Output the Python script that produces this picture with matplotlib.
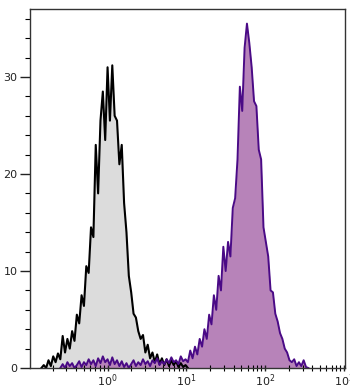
import numpy as np
import matplotlib
matplotlib.use('Agg')
import matplotlib.pyplot as plt
from matplotlib.ticker import LogLocator, MultipleLocator, LogFormatterMathtext, NullFormatter

# control (isotype) histogram, log10 bin centres start / step
ctrl_start = -0.84
ctrl_step = 0.03
ctrl_counts = [0, 0.3, 0, 0.8, 0.2, 1.2, 0.6, 1.5, 0.9, 3.3,
               1.6, 3.0, 2.0, 3.8, 2.8, 5.5, 4.6, 7.5, 6.4, 10.5,
               9.8, 14.5, 13.5, 23.0, 18.0, 25.5, 28.5, 23.5, 31.0, 25.5,
               31.2, 26.0, 25.5, 21.0, 23.0, 17.0, 14.0, 9.5, 7.8, 5.6,
               5.2, 3.8, 3.0, 3.4, 1.6, 2.4, 1.0, 1.6, 0.6, 1.4,
               0.4, 1.0, 0.3, 0.9, 0.2, 0.8, 0.3, 0.7, 0.1, 0.5,
               0.1, 0.3, 0]

# stained sample histogram
stain_start = -0.60
stain_step = 0.03
stain_counts = [0, 0.4, 0, 0.6, 0.2, 0.5, 0, 0.3, 0.7, 0.1,
                0.6, 0.3, 0.9, 0.4, 0.8, 0.2, 1.0, 0.5, 1.2, 0.6,
                0.9, 0.3, 1.1, 0.4, 0.8, 0.2, 0.7, 0.1, 0.5, 0,
                0.4, 0.8, 0.2, 0.6, 0.3, 0.9, 0.4, 0.7, 0.2, 0.8,
                0.5, 1.0, 0.3, 0.7, 0.4, 0.9, 0.5, 1.1, 0.6, 0.8,
                0.4, 1.2, 0.7, 0.9, 0.6, 1.8, 1.0, 2.2, 1.4, 3.0,
                2.2, 4.0, 3.0, 5.5, 4.5, 7.5, 6.0, 9.5, 8.0, 12.5,
                10.0, 13.0, 11.5, 16.5, 17.5, 21.5, 29.0, 26.5, 33.0, 35.5,
                33.5, 31.0, 27.5, 27.0, 22.5, 21.5, 14.5, 13.0, 11.5, 8.0,
                7.8, 5.6, 4.8, 3.6, 3.0, 2.0, 1.6, 0.8, 0.6, 0.9,
                0.2, 0.6, 0.2, 0.8, 0.1, 0]

ctrl_x = 10 ** (ctrl_start + ctrl_step * np.arange(len(ctrl_counts)))
stain_x = 10 ** (stain_start + stain_step * np.arange(len(stain_counts)))

fig = plt.figure(figsize=(3.5, 3.91), dpi=100)
ax = fig.add_axes([0.0857, 0.0588, 0.9, 0.918])

ax.fill_between(ctrl_x, ctrl_counts, 0, color='#dcdcdc', lw=0)
ax.plot(ctrl_x, ctrl_counts, color='black', lw=1.5)
ax.fill_between(stain_x, stain_counts, 0, color='#b783b9', lw=0)
ax.plot(stain_x, stain_counts, color='#4a0a86', lw=1.4)

ax.set_xscale('log')
ax.set_xlim(10 ** -0.985, 10 ** 3.015)
ax.set_ylim(0, 37)

ax.xaxis.set_major_locator(LogLocator(base=10, numticks=10))
ax.xaxis.set_major_formatter(LogFormatterMathtext())
ax.xaxis.set_minor_locator(LogLocator(base=10, subs=np.arange(2, 10), numticks=20))
ax.xaxis.set_minor_formatter(NullFormatter())
ax.yaxis.set_major_locator(MultipleLocator(10))
ax.yaxis.set_minor_locator(MultipleLocator(2))

ax.tick_params(axis='x', which='major', direction='inout', length=5, width=1, pad=1, labelsize=8, colors='#222222')
ax.tick_params(axis='x', which='minor', direction='inout', length=4, width=0.8)
ax.tick_params(axis='y', which='major', direction='out', length=7, width=1, pad=2, labelsize=8, colors='#222222')
ax.tick_params(axis='y', which='minor', direction='out', length=3.5, width=0.8)

for s in ax.spines.values():
    s.set_color('#333333')
    s.set_linewidth(1)

fig.savefig('out.png', dpi=100)
